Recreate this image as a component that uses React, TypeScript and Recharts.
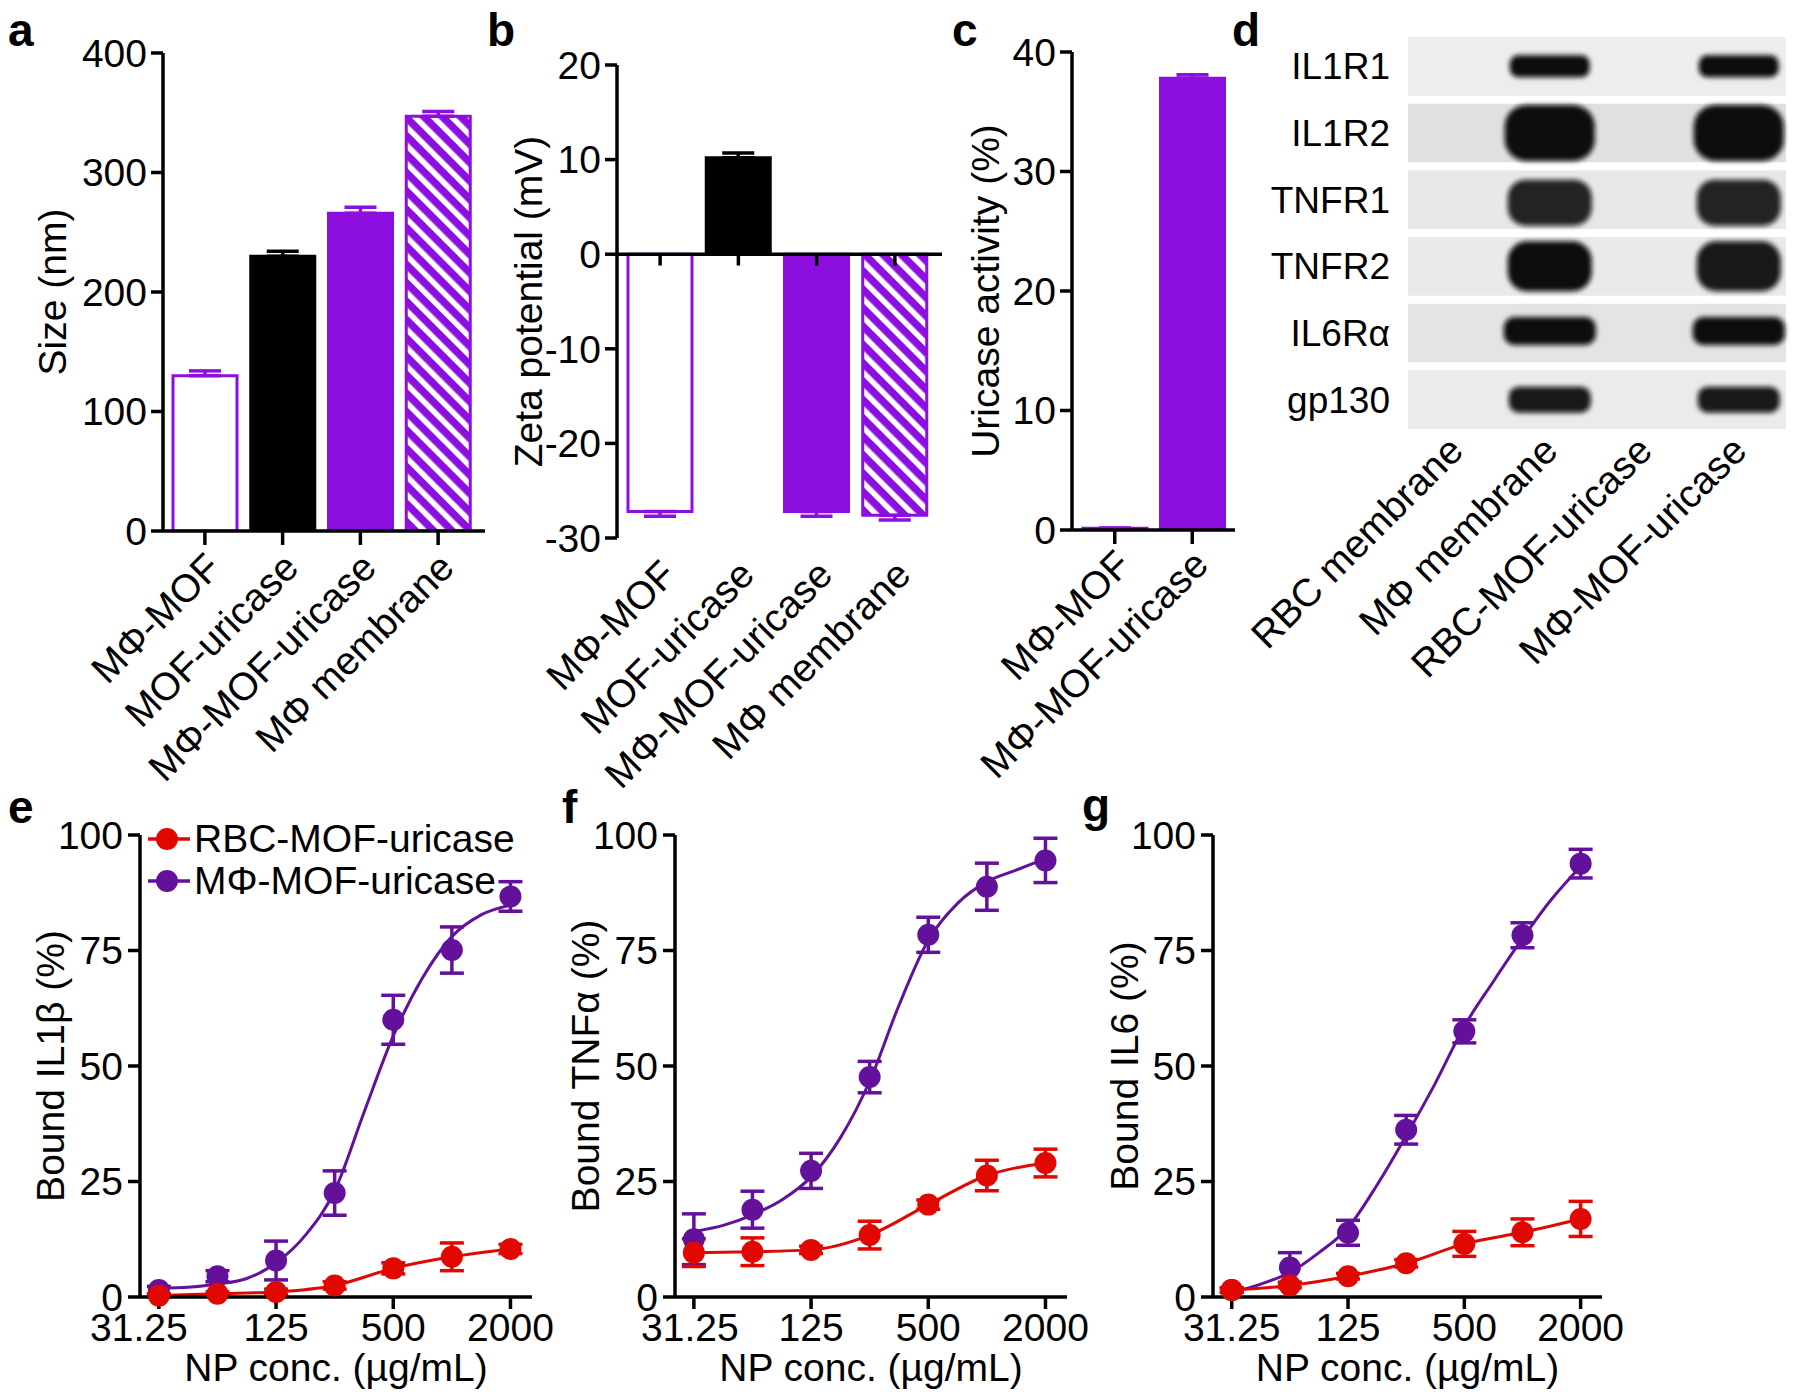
import React from "react";
import {
  BarChart,
  Bar,
  XAxis,
  YAxis,
  ErrorBar,
  ReferenceLine,
  ReferenceArea,
  ScatterChart,
  Scatter,
  ComposedChart,
  Line,
  Legend,
} from "recharts";

const FONT = '"Liberation Sans", Arial, Helvetica, sans-serif';
const VIOLET = "#8C0FE0";
const PLUM = "#63119B";
const RED = "#E00800";

// panels a-c
const formulations = ["MΦ-MOF", "MOF-uricase", "MΦ-MOF-uricase", "MΦ membrane"];
const sizeNm = [130, 230, 266, 347];
const sizeSd = [4, 4, 5, 4];
const zetaMv = [-27.2, 10.2, -27.2, -27.6];
const zetaSd = [0.5, 0.5, 0.5, 0.5];
const activityGroups = ["MΦ-MOF", "MΦ-MOF-uricase"];
const activityPct = [0.15, 37.8];
const activitySd = [0, 0.3];

// panel d
const blotTargets = ["IL1R1", "IL1R2", "TNFR1", "TNFR2", "IL6Rα", "gp130"];
const blotLanes = ["RBC membrane", "MΦ membrane", "RBC-MOF-uricase", "MΦ-MOF-uricase"];
const bandSignal = [
  [0, 1, 0, 1],
  [0, 1, 0, 1],
  [0, 0.9, 0, 0.9],
  [0, 1, 0, 0.95],
  [0, 1, 0, 1],
  [0, 0.95, 0, 0.95],
];

// panels e-g
const npConc = [31.25, 62.5, 125, 250, 500, 1000, 2000];
const fitConc = [31.25, 44.2, 62.5, 88.4, 125, 177, 250, 354, 500, 707, 1000, 1414, 2000];
const concTicks = [31.25, 125, 500, 2000];

const il1bMph = [1.5, 4.5, 7.9, 22.5, 60.0, 75.1, 86.7];
const il1bMphSd = [0.8, 1.2, 4.2, 4.8, 5.3, 5.0, 3.2];
const il1bMphFit = [1.9, 2.1, 2.8, 4.0, 7.4, 13.4, 23, 40, 56.5, 69.1, 78, 82.7, 84.8];
const il1bRbc = [0.3, 0.7, 1.1, 2.5, 6.2, 8.7, 10.4];
const il1bRbcSd = [0.3, 0.4, 0.6, 0.8, 1.2, 3.0, 1.0];

const tnfMph = [12.5, 18.9, 27.3, 47.6, 78.4, 88.8, 94.5];
const tnfMphSd = [5.5, 4.0, 3.8, 3.4, 3.8, 5.1, 4.8];
const tnfMphFit = [14.2, 15.5, 17.8, 21, 26, 34.5, 46.7, 63.2, 77.2, 85.2, 89.9, 92.4, 94.9];
const tnfRbc = [9.6, 9.8, 10.2, 13.4, 20.0, 26.3, 29.0];
const tnfRbcSd = [3.0, 3.0, 0.8, 3.0, 1.0, 3.3, 3.0];

const il6Mph = [1.5, 6.4, 13.9, 36.2, 57.5, 78.3, 93.8];
const il6MphSd = [0.5, 3.2, 2.7, 3.1, 2.5, 2.7, 3.1];
const il6MphFit = [1.0, 2.8, 5.3, 9.6, 15, 24.3, 34.9, 46.3, 58.6, 68.3, 77.6, 86.1, 93.2];
const il6Rbc = [1.5, 2.5, 4.5, 7.3, 11.5, 14.0, 16.9];
const il6RbcSd = [0.5, 0.5, 0.6, 0.8, 2.7, 2.9, 3.8];

const keyNames = ["RBC-MOF-uricase", "MΦ-MOF-uricase"];

// styling
const AXIS = { stroke: "#000", strokeWidth: 3.5 };
const TICK = { fontSize: 39, fill: "#000", fontFamily: FONT };
const formulationKind = ["open", "black", "violet", "hatch"];
const activityKind = ["open", "violet"];
const kindLook: Record<string, { fill: string; stroke: string }> = {
  open: { fill: "#fff", stroke: VIOLET },
  black: { fill: "#000", stroke: "#000" },
  violet: { fill: VIOLET, stroke: VIOLET },
  hatch: { fill: "url(#hatch)", stroke: VIOLET },
};
const blotShade = ["#ededed", "#e0e0e0", "#e8e8e8", "#eaeaea", "#e4e4e4", "#ebebeb"];
const bandLook = [
  { w: 80, h: 22, dy: 0 },
  { w: 90, h: 56, dy: 0 },
  { w: 84, h: 46, dy: 3 },
  { w: 84, h: 50, dy: 0 },
  { w: 92, h: 28, dy: -2 },
  { w: 82, h: 26, dy: 0 },
];

function SlantTick(props: any) {
  const { x, y, payload, shiftX = 0, shiftY = 0, labels } = props;
  const ax = x + shiftX;
  const ay = y + shiftY;
  const text = labels ? labels[payload.value - 1] : payload.value;
  return (
    <text
      x={ax}
      y={ay}
      transform={`rotate(-45 ${ax} ${ay})`}
      textAnchor="end"
      fontSize={39}
      fontFamily={FONT}
      fill="#000"
    >
      {text}
    </text>
  );
}

// first concentration label sits a little left of its tick in the original
function ConcTick(props: any) {
  const { x, y, payload, index, firstShift = 0 } = props;
  return (
    <text
      x={x + (index === 0 ? firstShift : 0)}
      y={y}
      dy="0.71em"
      textAnchor="middle"
      fontSize={39}
      fontFamily={FONT}
      fill="#000"
    >
      {payload.value}
    </text>
  );
}

function barRows(names: string[], means: number[], sds: number[], kinds: string[]) {
  return names.map((name, i) => {
    const row: any = { name };
    row[kinds[i]] = means[i];
    row[kinds[i] + "Err"] = means[i] < 0 ? [sds[i], 0] : [0, sds[i]];
    return row;
  });
}

interface BarPanelProps {
  left: number;
  width: number;
  plotLeft: number;
  plotRight: number;
  plotTop: number;
  plotBottom: number;
  rows: any[];
  kinds: string[];
  domain: [number, number];
  ticks: number[];
  title: string;
  titleX: number;
  padding: { left: number; right: number };
  labelShift: [number, number];
  zeroLine?: boolean;
}

function BarPanel({
  left,
  width,
  plotLeft,
  plotRight,
  plotTop,
  plotBottom,
  rows,
  kinds,
  domain,
  ticks,
  title,
  titleX,
  padding,
  labelShift,
  zeroLine = false,
}: BarPanelProps) {
  const height = 830;
  const used = kinds.filter((k, i) => kinds.indexOf(k) === i);
  return (
    <div style={{ position: "absolute", left, top: 0 }}>
      <BarChart
        width={width}
        height={height}
        data={rows}
        barSize={64}
        margin={{ top: plotTop, right: width - (plotRight - left), left: 0, bottom: 0 }}
      >
        <XAxis
          dataKey="name"
          height={height - plotBottom}
          padding={padding}
          interval={0}
          axisLine={zeroLine ? false : AXIS}
          tickLine={zeroLine ? false : AXIS}
          tickSize={zeroLine ? 0 : 14}
          tick={<SlantTick shiftX={labelShift[0]} shiftY={labelShift[1]} />}
        />
        <YAxis
          width={plotLeft - left}
          domain={domain}
          ticks={ticks}
          allowDataOverflow
          interval={0}
          axisLine={AXIS}
          tickLine={AXIS}
          tickSize={12}
          tickMargin={4}
          tick={TICK}
          label={{
            value: title,
            angle: -90,
            position: "insideLeft",
            offset: titleX,
            fontSize: 39,
            fill: "#000",
            fontFamily: FONT,
            style: { textAnchor: "middle" },
          }}
        />
        {used.map((k) => (
          <Bar
            key={k}
            dataKey={k}
            stackId="s"
            fill={kindLook[k].fill}
            stroke={kindLook[k].stroke}
            strokeWidth={3}
            isAnimationActive={false}
          >
            <ErrorBar
              dataKey={k + "Err"}
              width={16}
              stroke={kindLook[k].stroke}
              strokeWidth={3.5}
              isAnimationActive={false}
            />
          </Bar>
        ))}
        {zeroLine && <ReferenceLine y={0} stroke="#000" strokeWidth={3.5} />}
        {zeroLine &&
          rows.map((r) => (
            <ReferenceLine
              key={"t" + r.name}
              segment={[
                { x: r.name, y: 0 },
                { x: r.name, y: -1.2 },
              ]}
              stroke="#000"
              strokeWidth={3.5}
            />
          ))}
      </BarChart>
    </div>
  );
}

function BandShape(p: any) {
  const look = bandLook[p.payload.row];
  return (
    <rect
      x={p.cx - look.w / 2}
      y={p.cy - look.h / 2 + look.dy}
      width={look.w}
      height={look.h}
      rx={look.h / 2.6}
      fill="#0a0a0a"
      fillOpacity={p.payload.level}
      filter="url(#smear)"
    />
  );
}

function BlotPanel() {
  const bands: { lane: number; row: number; level: number }[] = [];
  bandSignal.forEach((row, r) =>
    row.forEach((level, l) => {
      if (level > 0) bands.push({ lane: l + 1, row: r, level });
    })
  );
  return (
    <div style={{ position: "absolute", left: 1240, top: 0 }}>
      <ScatterChart width={560} height={780} margin={{ top: 33, right: 14, left: 0, bottom: 0 }}>
        <XAxis
          type="number"
          dataKey="lane"
          domain={[0.5, 4.5]}
          ticks={[1, 2, 3, 4]}
          interval={0}
          height={347}
          axisLine={false}
          tickLine={false}
          tickSize={0}
          tick={<SlantTick labels={blotLanes} shiftX={10} shiftY={18} />}
        />
        <YAxis
          type="number"
          dataKey="row"
          domain={[-0.5, 5.5]}
          reversed
          ticks={[0, 1, 2, 3, 4, 5]}
          interval={0}
          width={168}
          axisLine={false}
          tickLine={false}
          tickSize={0}
          tickMargin={18}
          tick={{ ...TICK, fontSize: 37 }}
          tickFormatter={(v: number) => blotTargets[v]}
        />
        {blotTargets.map((t, r) => (
          <ReferenceArea
            key={t}
            x1={0.5}
            x2={4.5}
            y1={r - 0.44}
            y2={r + 0.44}
            fill={blotShade[r]}
            fillOpacity={1}
            stroke="none"
          />
        ))}
        <Scatter data={bands} shape={BandShape} isAnimationActive={false} />
      </ScatterChart>
    </div>
  );
}

function SeriesKey() {
  const colors = [RED, PLUM];
  return (
    <div style={{ fontFamily: FONT, fontSize: 39, color: "#000", lineHeight: "42px" }}>
      {keyNames.map((n, i) => (
        <div key={n} style={{ display: "flex", alignItems: "center", whiteSpace: "nowrap" }}>
          <svg width={44} height={42}>
            <line x1={0} x2={42} y1={21} y2={21} stroke={colors[i]} strokeWidth={3.5} />
            <circle cx={19} cy={21} r={11} fill={colors[i]} />
          </svg>
          <span style={{ marginLeft: 2 }}>{n}</span>
        </div>
      ))}
    </div>
  );
}

function dot(color: string) {
  return (p: any) => <circle cx={p.cx} cy={p.cy} r={11} fill={color} />;
}

interface BindingProps {
  left: number;
  width: number;
  plotLeft: number;
  plotRight: number;
  title: string;
  titleX: number;
  firstShift: number;
  mph: number[];
  mphSd: number[];
  mphFit: number[];
  rbc: number[];
  rbcSd: number[];
  withKey?: boolean;
}

function BindingPanel({
  left,
  width,
  plotLeft,
  plotRight,
  title,
  titleX,
  firstShift,
  mph,
  mphSd,
  mphFit,
  rbc,
  rbcSd,
  withKey = false,
}: BindingProps) {
  const mphPts = npConc.map((x, i) => ({ x, y: mph[i], sd: mphSd[i] }));
  const rbcPts = npConc.map((x, i) => ({ x, y: rbc[i], sd: rbcSd[i] }));
  const fit = fitConc.map((x, i) => ({ x, y: mphFit[i] }));
  return (
    <div style={{ position: "absolute", left, top: 780 }}>
      <ComposedChart
        width={width}
        height={619}
        margin={{ top: 55, right: width - (plotRight - left), left: 0, bottom: 0 }}
      >
        <XAxis
          type="number"
          dataKey="x"
          scale="log"
          domain={[25, 2580]}
          allowDataOverflow
          ticks={concTicks}
          interval={0}
          height={102}
          axisLine={AXIS}
          tickLine={AXIS}
          tickSize={12}
          tickMargin={4}
          tick={<ConcTick firstShift={firstShift} />}
          label={{
            value: "NP conc. (µg/mL)",
            position: "insideBottom",
            offset: 18,
            fontSize: 39,
            fill: "#000",
            fontFamily: FONT,
          }}
        />
        <YAxis
          type="number"
          domain={[0, 100]}
          ticks={[0, 25, 50, 75, 100]}
          interval={0}
          width={plotLeft - left}
          axisLine={AXIS}
          tickLine={AXIS}
          tickSize={12}
          tickMargin={5}
          tick={TICK}
          label={{
            value: title,
            angle: -90,
            position: "insideLeft",
            offset: titleX,
            fontSize: 39,
            fill: "#000",
            fontFamily: FONT,
            style: { textAnchor: "middle" },
          }}
        />
        <Line
          data={fit}
          dataKey="y"
          type="monotone"
          stroke={PLUM}
          strokeWidth={3}
          dot={false}
          isAnimationActive={false}
        />
        <Scatter data={mphPts} dataKey="y" fill={PLUM} shape={dot(PLUM)} isAnimationActive={false}>
          <ErrorBar dataKey="sd" direction="y" width={12} stroke={PLUM} strokeWidth={3.5} isAnimationActive={false} />
        </Scatter>
        <Line
          data={rbcPts}
          dataKey="y"
          type="monotone"
          stroke={RED}
          strokeWidth={3}
          dot={false}
          isAnimationActive={false}
        />
        <Scatter data={rbcPts} dataKey="y" fill={RED} shape={dot(RED)} isAnimationActive={false}>
          <ErrorBar dataKey="sd" direction="y" width={12} stroke={RED} strokeWidth={3.5} isAnimationActive={false} />
        </Scatter>
        {withKey && (
          <Legend
            layout="vertical"
            align="center"
            verticalAlign="middle"
            content={() => <SeriesKey />}
            wrapperStyle={{ left: 148, top: 38, width: "auto" }}
          />
        )}
      </ComposedChart>
    </div>
  );
}

const panelLetters = [
  { t: "a", x: 8, y: 46 },
  { t: "b", x: 487, y: 46 },
  { t: "c", x: 952, y: 46 },
  { t: "d", x: 1232, y: 46 },
  { t: "e", x: 8, y: 823 },
  { t: "f", x: 562, y: 823 },
  { t: "g", x: 1082, y: 821 },
];

export default function App() {
  return (
    <div
      style={{
        position: "absolute",
        left: 0,
        top: 0,
        width: 1800,
        height: 1399,
        background: "#fff",
        overflow: "hidden",
        fontFamily: FONT,
      }}
    >
      <svg width={1800} height={1399} style={{ position: "absolute", left: 0, top: 0 }}>
        <defs>
          <pattern id="hatch" patternUnits="userSpaceOnUse" width={13} height={13} patternTransform="rotate(-45)">
            <rect width={13} height={13} fill={VIOLET} />
            <rect width={5.5} height={13} fill="#fff" />
          </pattern>
          <filter id="smear" x="-20%" y="-40%" width="140%" height="180%">
            <feGaussianBlur stdDeviation="2.5" />
          </filter>
        </defs>
        {panelLetters.map((l) => (
          <text key={l.t} x={l.x} y={l.y} fontSize={46} fontWeight="bold" fontFamily={FONT} fill="#000">
            {l.t}
          </text>
        ))}
      </svg>

      <BarPanel
        left={0}
        width={500}
        plotLeft={163}
        plotRight={485}
        plotTop={53}
        plotBottom={531}
        rows={barRows(formulations, sizeNm, sizeSd, formulationKind)}
        kinds={formulationKind}
        domain={[0, 400]}
        ticks={[0, 100, 200, 300, 400]}
        title="Size (nm)"
        titleX={52}
        padding={{ left: 3, right: 8 }}
        labelShift={[18, 23]}
      />
      <BarPanel
        left={450}
        width={510}
        plotLeft={617}
        plotRight={942}
        plotTop={65}
        plotBottom={538}
        rows={barRows(formulations, zetaMv, zetaSd, formulationKind)}
        kinds={formulationKind}
        domain={[-30, 20]}
        ticks={[-30, -20, -10, 0, 10, 20]}
        title="Zeta potential (mV)"
        titleX={78}
        padding={{ left: 4, right: 8 }}
        labelShift={[18, 37]}
        zeroLine
      />
      <BarPanel
        left={930}
        width={320}
        plotLeft={1072}
        plotRight={1235}
        plotTop={52}
        plotBottom={530}
        rows={barRows(activityGroups, activityPct, activitySd, activityKind)}
        kinds={activityKind}
        domain={[0, 40]}
        ticks={[0, 10, 20, 30, 40]}
        title="Uricase activity (%)"
        titleX={55}
        padding={{ left: 4, right: 4 }}
        labelShift={[18, 21]}
      />
      <BlotPanel />

      <BindingPanel
        left={0}
        width={560}
        plotLeft={140}
        plotRight={532}
        title="Bound IL1β (%)"
        titleX={50}
        firstShift={-20}
        mph={il1bMph}
        mphSd={il1bMphSd}
        mphFit={il1bMphFit}
        rbc={il1bRbc}
        rbcSd={il1bRbcSd}
        withKey
      />
      <BindingPanel
        left={560}
        width={540}
        plotLeft={675}
        plotRight={1067}
        title="Bound TNFα (%)"
        titleX={25}
        firstShift={-4}
        mph={tnfMph}
        mphSd={tnfMphSd}
        mphFit={tnfMphFit}
        rbc={tnfRbc}
        rbcSd={tnfRbcSd}
      />
      <BindingPanel
        left={1090}
        width={540}
        plotLeft={1213}
        plotRight={1602}
        title="Bound IL6 (%)"
        titleX={34}
        firstShift={0}
        mph={il6Mph}
        mphSd={il6MphSd}
        mphFit={il6MphFit}
        rbc={il6Rbc}
        rbcSd={il6RbcSd}
      />
    </div>
  );
}
